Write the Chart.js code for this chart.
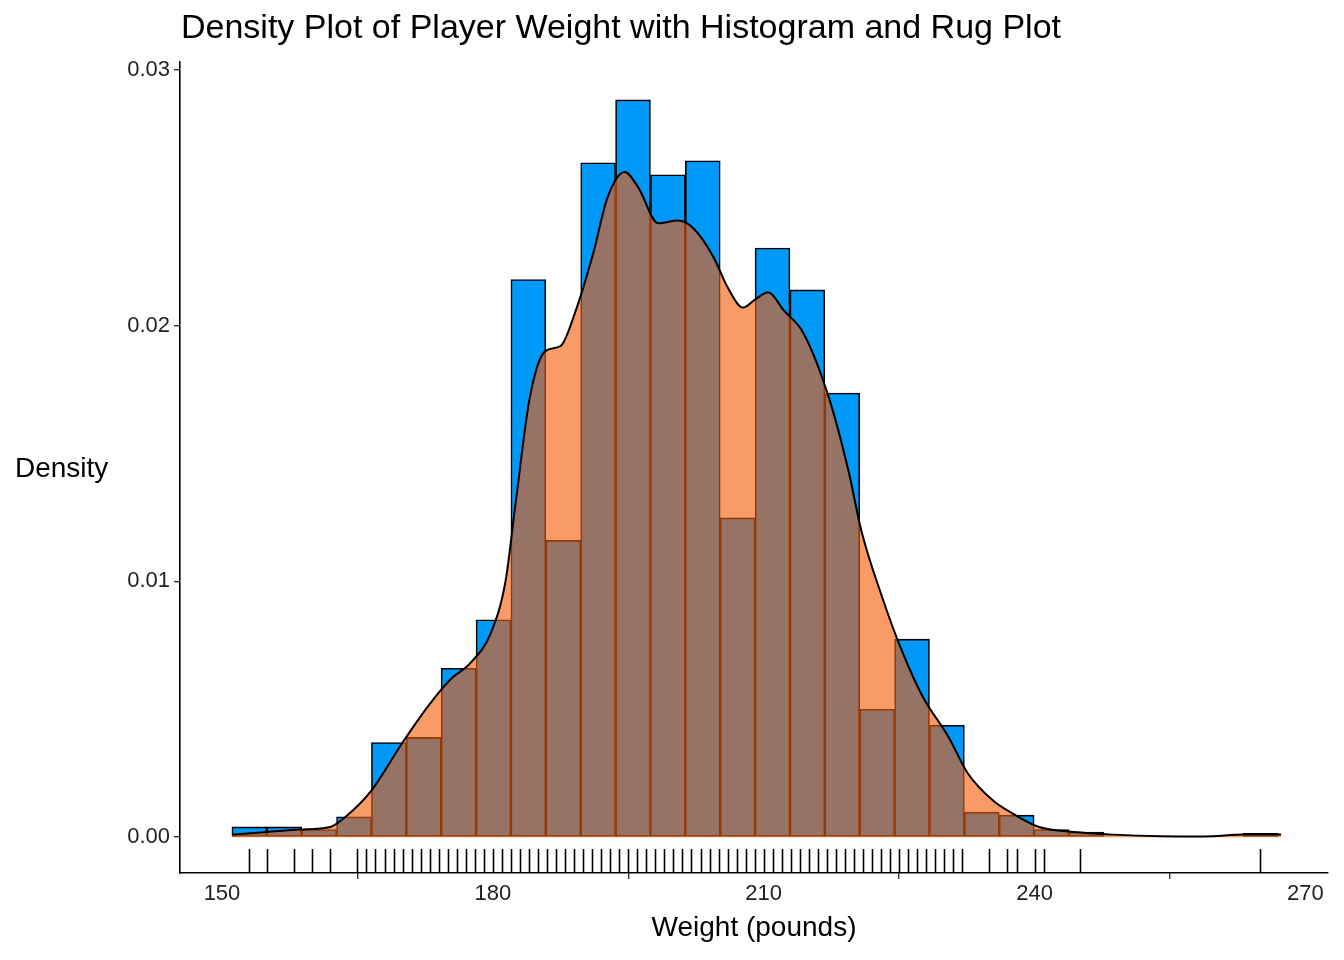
<!DOCTYPE html>
<html><head><meta charset="utf-8">
<script src="https://cdn.jsdelivr.net/npm/chart.js@4"></script>
<style>html,body{margin:0;padding:0;background:#fff}#wrap{width:1344px;height:960px;position:relative}</style>
</head><body><div id="wrap"><canvas id="c"></canvas></div>
<script>
const binStart = 151.1, binWidth = 3.863;
const histDensity = [0.0004,0.0004,0.0003,0.0008,0.0037,0.0039,0.0066,0.0085,0.0218,0.0116,
  0.02636,0.02882,0.02589,0.02644,0.01248,0.02303,0.02139,0.01736,0.0050,0.00774,
  0.00438,0.00098,0.00086,0.0003,0.0002,0,0,0,0,0.00015];
const densX = [151.1,155,158.6,162,163.7,166.5,170,173,175.4,177.5,179.8,181.4,182.5,184.1,185.8,187.5,189.1,191.1,192.7,194.6,196.1,198.3,200.5,202.2,204.4,206,207.7,209,210.5,212.2,214.4,217.2,219.4,220.8,223.2,225.4,227.6,230.5,232.6,235.5,237.7,240.5,244.4,248.8,254,258.8,263.2,267.3];
const densY = [0.0001,0.0002,0.0003,0.0004,0.0008,0.0018,0.0037,0.0052,0.0062,0.0068,0.0080,0.0100,0.0130,0.0172,0.0190,0.0192,0.0205,0.0228,0.0250,0.0260,0.0254,0.0240,0.0241,0.0238,0.0227,0.0215,0.0207,0.0210,0.0213,0.0206,0.0197,0.0172,0.0143,0.0120,0.0093,0.0072,0.0055,0.0039,0.0025,0.0014,0.0009,0.0004,0.0002,0.0001,0.00004,0.00003,0.0001,0.0001];
const rugValues = [153,155,158,160,162];
for (let w = 165; w <= 232; w++) rugValues.push(w);
rugValues.push(235,237,238,240,241,245,265);
const xTicks = [150,180,210,240,270];
const yTicks = [0,0.01,0.02,0.03];
const titleText = 'Density Plot of Player Weight with Histogram and Rug Plot';
const xTitle = 'Weight (pounds)', yTitle = 'Density';

const FONT = '"Liberation Sans", Arial, sans-serif';
const barData = histDensity.map((v,i)=>({x: binStart + binWidth*(i+0.5), y: v}));
const lineData = densX.map((x,i)=>({x, y: densY[i]}));

const decor = {
  id:'decor',
  afterDatasetsDraw(chart){
    const {ctx, chartArea:a, scales:{x}} = chart;
    ctx.save();
    ctx.strokeStyle = '#000'; ctx.lineWidth = 1.6;
    rugValues.forEach(v=>{
      const px = Math.round(x.getPixelForValue(v))+0.5;
      ctx.beginPath(); ctx.moveTo(px, a.bottom); ctx.lineTo(px, a.bottom-24); ctx.stroke();
    });
    ctx.restore();
  },
  afterDraw(chart){
    const {ctx, chartArea:a} = chart;
    ctx.save();
    ctx.fillStyle = '#000';
    ctx.font = '34px ' + FONT; ctx.textBaseline = 'middle'; ctx.textAlign = 'left';
    ctx.fillText(titleText, 181, 29);
    ctx.font = '28px ' + FONT;
    ctx.fillText(yTitle, 15, 469);
    ctx.textAlign = 'center';
    ctx.fillText(xTitle, (a.left+a.right)/2, 928);
    ctx.restore();
  }
};

new Chart(document.getElementById('c'), {
  data: {
    datasets: [
      {type:'line', data: lineData, borderColor:'#000', borderWidth:2, backgroundColor:'rgba(245,91,7,0.61)',
       fill:'origin', pointRadius:0, cubicInterpolationMode:'monotone', order:1},
      {type:'bar', data: barData, backgroundColor:'#0099F8', borderColor:'#000', borderWidth:1.6,
       borderSkipped:false, barPercentage:1, categoryPercentage:1, grouped:false, order:3}
    ]
  },
  options: {
    responsive:true, maintainAspectRatio:false, animation:false,
    layout:{padding:{top:62, right:16, left:0, bottom:0}},
    plugins:{legend:{display:false}, tooltip:{enabled:false}},
    scales:{
      x:{type:'linear', min:145.35, max:272.5, offset:false,
        afterBuildTicks(s){ s.ticks = xTicks.map(v=>({value:v})); },
        afterFit(s){ s.height = 87; },
        grid:{drawOnChartArea:false, color:'#333', tickLength:6, lineWidth:1.4},
        border:{display:true, color:'#000', width:1.6},
        ticks:{color:'#222', font:{size:22, family:FONT}, padding:2, maxRotation:0}},
      y:{type:'linear', min:-0.0014, max:0.0303,
        afterBuildTicks(s){ s.ticks = yTicks.map(v=>({value:v})); },
        afterFit(s){ s.width = 180; },
        grid:{drawOnChartArea:false, color:'#333', tickLength:6, lineWidth:1.4},
        border:{display:true, color:'#000', width:1.6},
        ticks:{color:'#222', font:{size:22, family:FONT}, padding:4, callback:v=>v.toFixed(2)}}
    }
  },
  plugins:[decor]
});
</script></body></html>
